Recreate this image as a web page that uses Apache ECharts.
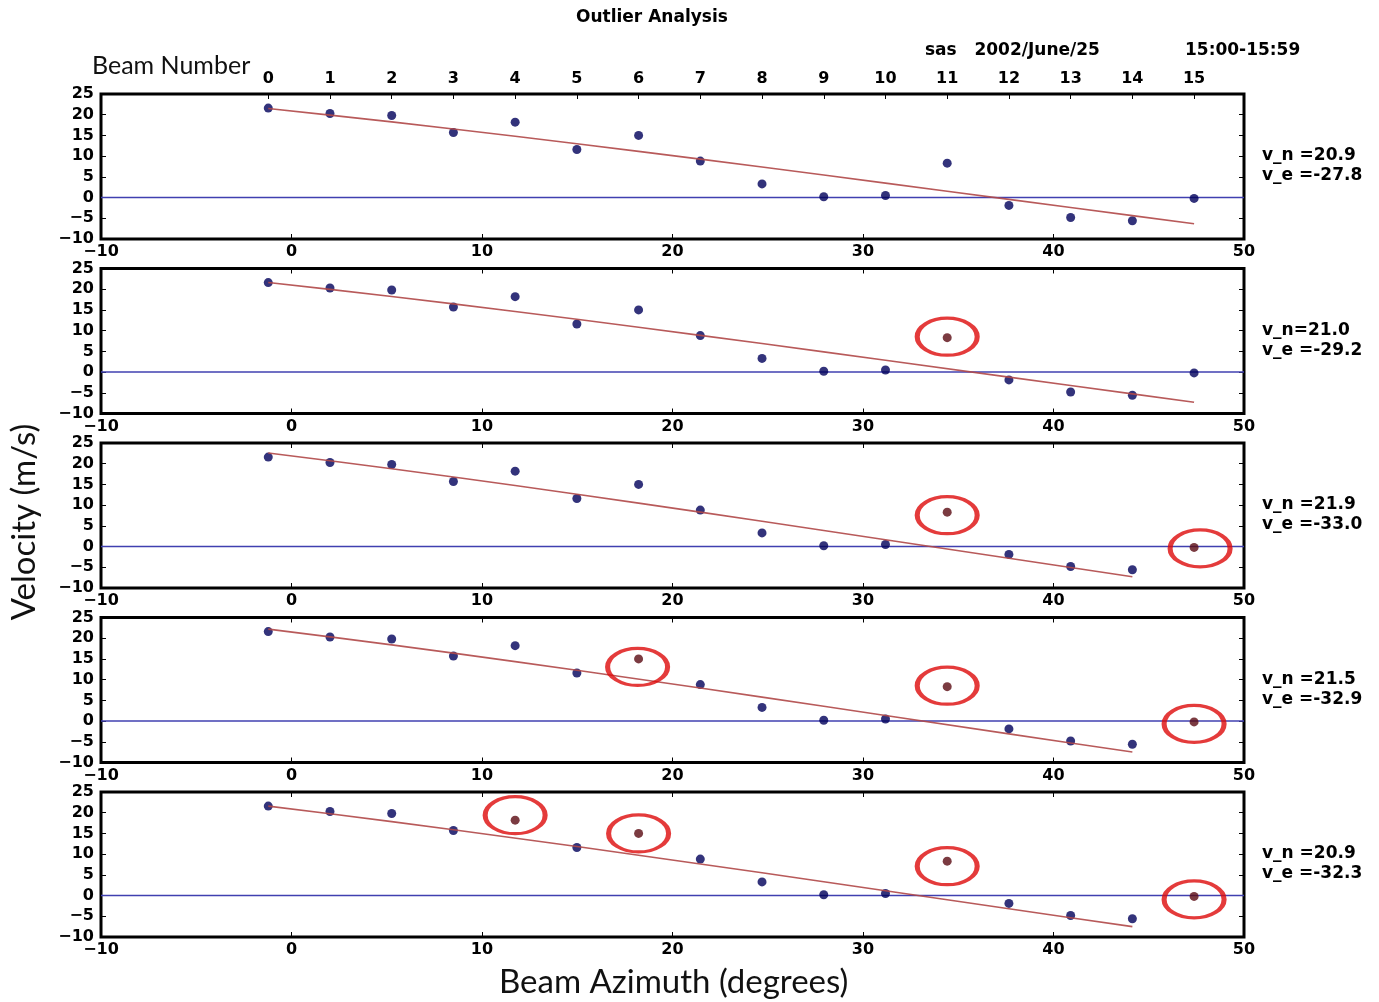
<!DOCTYPE html>
<html>
<head>
<meta charset="utf-8">
<title>Outlier Analysis</title>
<script src="https://cdn.jsdelivr.net/npm/echarts@6/dist/echarts.min.js"></script>
<style>
  html, body { margin: 0; padding: 0; background: #fff; }
  #chart { width: 1379px; height: 1002px; }
</style>
</head>
<body>
<div id="chart"></div>
<script>
// Beam azimuths (degrees) of the 16 radar beams, numbered 0..15
const beamAzimuth = [-1.22, 2.02, 5.26, 8.50, 11.74, 14.98, 18.22, 21.46,
                     24.70, 27.94, 31.18, 34.42, 37.66, 40.90, 44.14, 47.38];
const beamNumber = [0, 1, 2, 3, 4, 5, 6, 7, 8, 9, 10, 11, 12, 13, 14, 15];

// Line-of-sight velocity (m/s) measured along each beam
const losVelocity = [21.6, 20.3, 19.8, 15.7, 18.2, 11.6, 15.0, 8.8,
                     3.3, 0.2, 0.5, 8.3, -1.9, -4.8, -5.6, -0.2];

// Fitted north / east velocity components for each pass of the outlier rejection
const fitNorth = [20.9, 21.0, 21.9, 21.5, 20.9];
const fitEast = [-27.8, -29.2, -33.0, -32.9, -32.3];
const northSep = [' =', '=', ' =', ' =', ' ='];

// Beams rejected as outliers in each pass
const outlierBeams = [[], [11], [11, 15], [6, 11, 15], [4, 6, 11, 15]];
// Beams used in the fit of each pass (fit curve spans these)
const fitBeams = [
  [0, 1, 2, 3, 4, 5, 6, 7, 8, 9, 10, 11, 12, 13, 14, 15],
  [0, 1, 2, 3, 4, 5, 6, 7, 8, 9, 10, 12, 13, 14, 15],
  [0, 1, 2, 3, 4, 5, 6, 7, 8, 9, 10, 12, 13, 14],
  [0, 1, 2, 3, 4, 5, 7, 8, 9, 10, 12, 13, 14],
  [0, 1, 2, 3, 5, 7, 8, 9, 10, 12, 13, 14]
];

// Hand-drawn ring placement around each marked outlier (pixel nudges)
const ringNudge = [
  {},
  { 11: [0, -1] },
  { 11: [0, 3], 15: [6, 1] },
  { 6: [-1, 8], 11: [0, -1], 15: [0, 2] },
  { 4: [0, -5], 6: [0, 0], 11: [0, 5], 15: [0, 3] }
];

const chart = echarts.init(document.getElementById('chart'), null, { renderer: 'canvas' });

const FONT = 'DejaVu Sans';
const PANEL_TOP = 94, PANEL_STEP = 174.5, PANEL_H = 145, LEFT = 101, WIDTH = 1143;
const minus = v => (v < 0 ? '\u2212' + (-v) : String(v));
const deg = Math.PI / 180;

const grids = [], xAxes = [], yAxes = [], series = [], graphics = [];

for (let k = 0; k < 5; k++) {
  const top = PANEL_TOP + PANEL_STEP * k;
  grids.push({ left: LEFT, top: top, width: WIDTH, height: PANEL_H, show: true,
    backgroundColor: '#fff', borderColor: '#000', borderWidth: 3 });

  const tick = { show: true, inside: true, length: 5, lineStyle: { color: '#000', width: 1 } };
  const label = { fontFamily: FONT, fontWeight: 'bold', fontSize: 16, color: '#000' };
  const noLine = { show: false, onZero: false };

  // bottom azimuth axis
  xAxes.push({ gridIndex: k, type: 'value', position: 'bottom', min: -10, max: 50, interval: 10,
    axisLine: noLine, splitLine: { show: false }, axisTick: tick,
    axisLabel: Object.assign({ margin: 5, formatter: minus, showMinLabel: true, showMaxLabel: true }, label) });

  // top axis: beam numbers on the first panel, plain ticks elsewhere
  if (k === 0) {
    xAxes.push({ gridIndex: k, type: 'value', position: 'top', min: -10, max: 50,
      axisLine: noLine, splitLine: { show: false },
      axisTick: Object.assign({ customValues: beamAzimuth }, tick),
      axisLabel: Object.assign({ margin: 7, customValues: beamAzimuth,
        formatter: v => {
          const i = beamAzimuth.findIndex(a => Math.abs(a - v) < 1e-6);
          return i >= 0 ? String(beamNumber[i]) : '';
        } }, label) });
  } else {
    xAxes.push({ gridIndex: k, type: 'value', position: 'top', min: -10, max: 50, interval: 10,
      axisLine: noLine, splitLine: { show: false }, axisTick: tick,
      axisLabel: { show: false } });
  }

  yAxes.push({ gridIndex: k, type: 'value', position: 'left', min: -10, max: 25, interval: 5,
    axisLine: noLine, splitLine: { show: false }, axisTick: tick,
    axisLabel: Object.assign({ margin: 7, formatter: minus, showMinLabel: true, showMaxLabel: true }, label) });
  yAxes.push({ gridIndex: k, type: 'value', position: 'right', min: -10, max: 25, interval: 5,
    axisLine: noLine, splitLine: { show: false }, axisTick: tick,
    axisLabel: { show: false } });

  const xi = 2 * k, yi = 2 * k;

  // zero-velocity reference
  series.push({ type: 'line', xAxisIndex: xi, yAxisIndex: yi, data: [[-10, 0], [50, 0]],
    symbol: 'none', silent: true, z: 1,
    lineStyle: { color: '#4040b0', width: 1.4 } });

  const outs = outlierBeams[k];
  const normal = beamNumber.filter(b => outs.indexOf(b) < 0)
    .map(b => [beamAzimuth[b], losVelocity[b]]);
  const rejected = outs.map(b => [beamAzimuth[b], losVelocity[b]]);

  series.push({ type: 'scatter', xAxisIndex: xi, yAxisIndex: yi, data: normal,
    symbol: 'circle', symbolSize: 9, z: 2, itemStyle: { color: '#00005a' } });
  series.push({ type: 'scatter', xAxisIndex: xi, yAxisIndex: yi, data: rejected,
    symbol: 'circle', symbolSize: 9, z: 2, itemStyle: { color: '#5a0a12' } });

  // fitted line-of-sight velocity v_n cos(az) + v_e sin(az) over the fitted beams
  const fit = fitBeams[k].map(b => {
    const a = beamAzimuth[b];
    return [a, fitNorth[k] * Math.cos(a * deg) + fitEast[k] * Math.sin(a * deg)];
  });
  series.push({ type: 'line', xAxisIndex: xi, yAxisIndex: yi, data: fit,
    symbol: 'none', silent: true, z: 3,
    lineStyle: { color: '#b04848', width: 1.6, opacity: 0.9 } });

  // red rings marking rejected beams
  if (outs.length) {
    series.push({ type: 'scatter', xAxisIndex: xi, yAxisIndex: yi, z: 4,
      symbol: 'circle', symbolSize: [60, 37],
      itemStyle: { color: 'rgba(0,0,0,0)', borderColor: '#dd0a0a', borderWidth: 4 },
      data: outs.map(b => ({ value: [beamAzimuth[b], losVelocity[b]],
        symbolOffset: ringNudge[k][b] || [0, 0] })) });
  }

  // fit result text at the right of each panel
  graphics.push({ type: 'text', left: 1262, top: top + 52, z: 10,
    style: { text: 'v_n' + northSep[k] + fitNorth[k].toFixed(1) + '\nv_e =' + fitEast[k].toFixed(1),
      font: 'bold 17px "DejaVu Sans"', fill: '#000', lineHeight: 20, align: 'left' } });
}

graphics.push(
  { type: 'text', left: 576, top: 9, style: { text: 'Outlier Analysis',
      font: 'bold 17px "DejaVu Sans"', fill: '#000' } },
  { type: 'text', left: 925, top: 42, style: { text: 'sas   2002/June/25',
      font: 'bold 17px "DejaVu Sans"', fill: '#000' } },
  { type: 'text', left: 1185, top: 42, style: { text: '15:00-15:59',
      font: 'bold 17px "DejaVu Sans"', fill: '#000' } },
  { type: 'text', left: 92, top: 53, style: { text: 'Beam Number',
      font: '25px Lato', fill: '#111' } },
  { type: 'text', left: 499, top: 966, style: { text: 'Beam Azimuth (degrees)',
      font: '33px Lato', fill: '#111' } },
  { type: 'text', x: 8, y: 522, rotation: Math.PI / 2, z: 10,
    style: { text: 'Velocity (m/s)', font: '33px Lato', fill: '#111',
      align: 'center', verticalAlign: 'top' } }
);

chart.setOption({
  backgroundColor: '#fff',
  animation: false,
  grid: grids,
  xAxis: xAxes,
  yAxis: yAxes,
  series: series,
  graphic: graphics
});
</script>
</body>
</html>
